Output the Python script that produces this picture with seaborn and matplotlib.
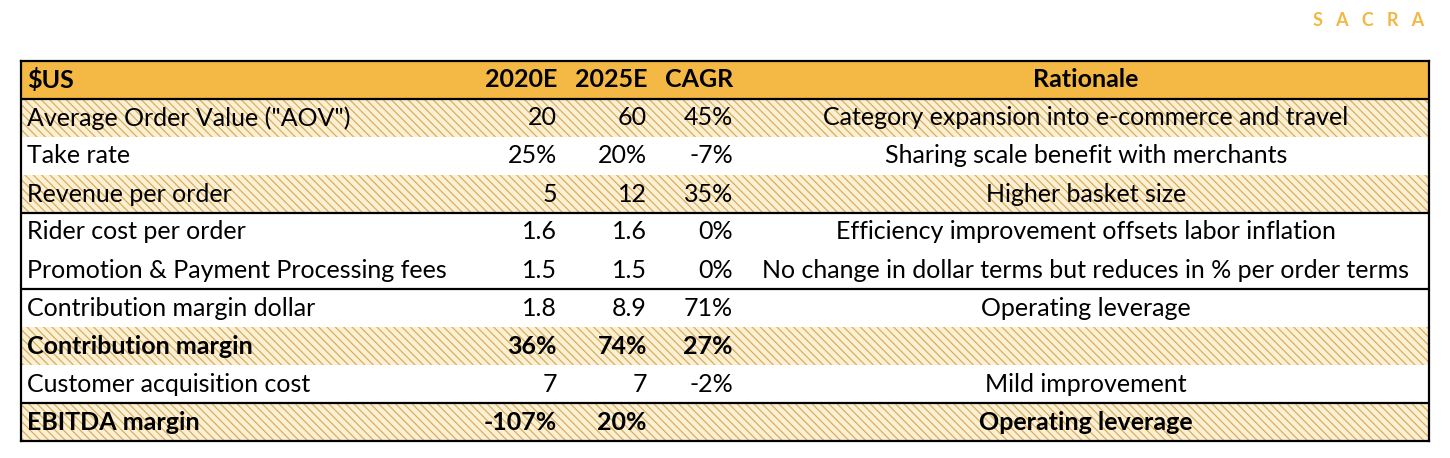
import pandas as pd
import matplotlib.pyplot as plt
import seaborn as sns

# table content
row_labels = ["$US", 'Average Order Value ("AOV")', "Take rate", "Revenue per order",
              "Rider cost per order", "Promotion & Payment Processing fees",
              "Contribution margin dollar", "Contribution margin",
              "Customer acquisition cost", "EBITDA margin"]
v2020 = ["2020E", "20", "25%", "5", "1.6", "1.5", "1.8", "36%", "7", "-107%"]
v2025 = ["2025E", "60", "20%", "12", "1.6", "1.5", "8.9", "74%", "7", "20%"]
cagr = ["CAGR", "45%", "-7%", "35%", "0%", "0%", "71%", "27%", "-2%", ""]
rationale = ["Rationale",
             "Category expansion into e-commerce and travel",
             "Sharing scale benefit with merchants",
             "Higher basket size",
             "Efficiency improvement offsets labor inflation",
             "No change in dollar terms but reduces in % per order terms",
             "Operating leverage",
             "",
             "Mild improvement",
             "Operating leverage"]
row_kind = ["header", "shade", "plain", "shade", "plain", "plain",
            "plain", "shade", "plain", "shade"]
bold_rows = [0, 7, 9]
rule_after = [0, 3, 5, 8]

HEADER = "#F3B944"
SHADE = "#FBEFD4"
HATCH = "#D8AE5E"
TABLE_W = 1408

sns.set_theme(style="white")
plt.rcParams["font.family"] = ["Lato", "DejaVu Sans"]
plt.rcParams["text.color"] = "black"
plt.rcParams["hatch.linewidth"] = 0.9

fig = plt.figure(figsize=(14.5, 4.58), dpi=100)
ax = fig.add_axes([21 / 1450, 1 - 441 / 458, TABLE_W / 1450, 380 / 458])

df = pd.DataFrame({"row": range(len(row_labels)), "kind": row_kind})
df["span"] = TABLE_W
sns.barplot(data=df, x="span", y="row", hue="kind", orient="h", native_scale=True,
            dodge=False, width=1.0, saturation=1,
            palette={"header": HEADER, "shade": SHADE, "plain": "white"},
            linewidth=0, legend=False, ax=ax)
# hatch the shaded rows
for p in ax.patches:
    r = int(round(p.get_y() + p.get_height() / 2))
    if 0 <= r < len(row_kind) and row_kind[r] == "shade":
        p.set_hatch("\\\\\\\\")
        p.set_edgecolor(HATCH)
        p.set_linewidth(0)

ax.set_xlim(0, TABLE_W)
ax.set_ylim(len(row_labels) - 0.5, -0.5)
ax.set_xticks([])
ax.set_yticks([])
ax.set_xlabel("")
ax.set_ylabel("")
for s in ax.spines.values():
    s.set_visible(True)
    s.set_color("black")
    s.set_linewidth(1.6)
for r in rule_after:
    ax.axhline(r + 0.5, color="black", lw=1.6)

fs = 18
for i in range(len(row_labels)):
    w = "bold" if i in bold_rows else "normal"
    ax.text(6, i, row_labels[i], ha="left", va="center", fontsize=fs, fontweight=w)
    ax.text(536, i, v2020[i], ha="right", va="center", fontsize=fs, fontweight=w)
    ax.text(626, i, v2025[i], ha="right", va="center", fontsize=fs, fontweight=w)
    ax.text(712, i, cagr[i], ha="right", va="center", fontsize=fs, fontweight=w)
    ax.text(1065, i, rationale[i], ha="center", va="center", fontsize=fs, fontweight=w)

fig.text(1424 / 1450, 1 - 20 / 458, "S   A   C   R   A", ha="right", va="center",
         fontsize=13, fontweight="bold", color="#F1B843")

fig.savefig("out.png", dpi=100, facecolor="white")
